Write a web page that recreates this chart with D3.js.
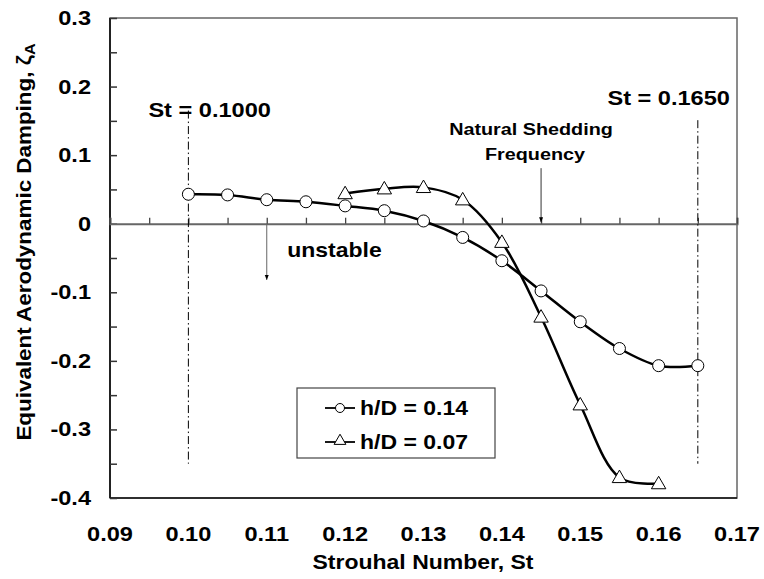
<!DOCTYPE html>
<html>
<head>
<meta charset="utf-8">
<script src="https://cdn.jsdelivr.net/npm/d3@7"></script>
<style>
  body { margin: 0; background: #fff; }
  text { font-family: "Liberation Sans", Arial, sans-serif; font-weight: bold; fill: #000; }
</style>
</head>
<body>
<svg id="chart" width="764" height="579"></svg>
<script>
// data
var stCircle = [0.100, 0.105, 0.110, 0.115, 0.120, 0.125, 0.130, 0.135, 0.140, 0.145, 0.150, 0.155, 0.160, 0.165];
var dampCircle = [0.043, 0.042, 0.035, 0.032, 0.026, 0.019, 0.004, -0.020, -0.054, -0.098, -0.143, -0.182, -0.207, -0.207];
var stTri = [0.120, 0.125, 0.130, 0.135, 0.140, 0.145, 0.150, 0.155, 0.160];
var dampTri = [0.044, 0.051, 0.053, 0.035, -0.027, -0.136, -0.264, -0.370, -0.379];
var xTicks = [0.09, 0.10, 0.11, 0.12, 0.13, 0.14, 0.15, 0.16, 0.17];
var yTicks = [0.3, 0.2, 0.1, 0, -0.1, -0.2, -0.3, -0.4];
var seriesNames = ["h/D = 0.14", "h/D = 0.07"];

var svg = d3.select("#chart");
var mLeft = 110, mRight = 737, mTop = 18, mBottom = 498;
var stretch = 1.15; // the original text is a bit wide

var x = d3.scaleLinear().domain([0.09, 0.17]).range([mLeft, mRight]);
var y = d3.scaleLinear().domain([-0.4, 0.3]).range([mBottom, mTop]);

function label(txt, px, py, anchor, size, rot) {
  var t = svg.append("text")
    .attr("transform", "translate(" + px + "," + py + ")" + (rot ? " rotate(" + rot + ")" : "") + " scale(" + stretch + ",1)")
    .attr("text-anchor", anchor || "start")
    .style("font-size", (size || 20) + "px");
  t.text(txt);
  return t;
}

svg.append("defs").append("marker")
  .attr("id", "arr").attr("viewBox", "0 0 10 10")
  .attr("refX", 10).attr("refY", 5)
  .attr("markerWidth", 5).attr("markerHeight", 5)
  .attr("orient", "auto")
  .append("path").attr("d", "M0,1 L10,5 L0,9 Z").attr("fill", "#000");

// frame
svg.append("rect").attr("x", mLeft).attr("y", mTop)
  .attr("width", mRight - mLeft).attr("height", mBottom - mTop)
  .attr("fill", "none").attr("stroke", "#666").attr("stroke-width", 1.5);
svg.append("line").attr("x1", mLeft).attr("x2", mLeft).attr("y1", mTop).attr("y2", mBottom)
  .attr("stroke", "#222").attr("stroke-width", 2);
svg.append("line").attr("x1", mLeft).attr("x2", mRight).attr("y1", mBottom).attr("y2", mBottom)
  .attr("stroke", "#111").attr("stroke-width", 1.5);

// y axis, ticks pointing inwards
var yAxis = d3.axisRight(y).tickValues(d3.range(-0.4, 0.3001, 0.05)).tickSize(7).tickFormat("");
var ya = svg.append("g").attr("transform", "translate(" + mLeft + ",0)").call(yAxis);
ya.select(".domain").remove();
ya.selectAll("line").attr("stroke", "#333").attr("stroke-width", 1.5);

yTicks.forEach(function (v) {
  var s = v === 0 ? "0" : d3.format(".1f")(v).replace("\u2212", "-");
  label(s, 91, y(v) + 7, "end", 20.5);
});

// zero line with upward ticks
var xAxis = d3.axisTop(x).tickValues(d3.range(0.09, 0.1701, 0.005)).tickSize(6).tickFormat("");
var xa = svg.append("g").attr("transform", "translate(0," + y(0) + ")").call(xAxis);
xa.select(".domain").attr("stroke", "#666").attr("stroke-width", 2);
xa.selectAll("line").attr("stroke", "#444").attr("stroke-width", 1.3);

xTicks.forEach(function (v) {
  label(d3.format(".2f")(v), x(v), 541, "middle", 20.5);
});

// dash-dot limits
[[0.100, 0.165], [0.165, 0.151]].forEach(function (d) {
  svg.append("line").attr("x1", x(d[0])).attr("x2", x(d[0]))
    .attr("y1", y(d[1])).attr("y2", y(-0.35))
    .attr("stroke", "#000").attr("stroke-width", 1)
    .attr("stroke-dasharray", "8,3,1.5,3");
});
label("St = 0.1000", x(0.0949), y(0.155), "start", 20.5);
label("St = 0.1650", x(0.1691), y(0.173), "end", 20.5);

// annotations
svg.append("line").attr("x1", x(0.11)).attr("x2", x(0.11)).attr("y1", y(0)).attr("y2", y(-0.082))
  .attr("stroke", "#666").attr("stroke-width", 1).attr("marker-end", "url(#arr)");
label("unstable", x(0.1126), y(-0.0486), "start", 20);

svg.append("line").attr("x1", x(0.145)).attr("x2", x(0.145)).attr("y1", y(0.081)).attr("y2", y(0.002))
  .attr("stroke", "#333").attr("stroke-width", 1).attr("marker-end", "url(#arr)");
label("Natural Shedding", 531, 135, "middle", 17.2);
label("Frequency", 535, 160, "middle", 17.2);

// series
var line = d3.line().curve(d3.curveCatmullRom.alpha(0.5))
  .x(function (d) { return x(d[0]); }).y(function (d) { return y(d[1]); });

var circPts = d3.zip(stCircle, dampCircle);
var triPts = d3.zip(stTri, dampTri);
var triSym = d3.symbol().type(d3.symbolTriangle).size(90);

[circPts, triPts].forEach(function (pts) {
  svg.append("path").datum(pts).attr("d", line)
    .attr("fill", "none").attr("stroke", "#000").attr("stroke-width", 2.5);
});

svg.selectAll(".circ").data(circPts).enter().append("circle")
  .attr("cx", function (d) { return x(d[0]); }).attr("cy", function (d) { return y(d[1]); })
  .attr("r", 6).attr("fill", "#fff").attr("stroke", "#000").attr("stroke-width", 1);

svg.selectAll(".tri").data(triPts).enter().append("path")
  .attr("d", triSym)
  .attr("transform", function (d) { return "translate(" + x(d[0]) + "," + (y(d[1]) + 1) + ")"; })
  .attr("fill", "#fff").attr("stroke", "#000").attr("stroke-width", 1);

// legend
svg.append("rect").attr("x", 297).attr("y", 388).attr("width", 198).attr("height", 70)
  .attr("fill", "#fff").attr("stroke", "#444").attr("stroke-width", 1.2);
var legRows = [408, 442];
seriesNames.forEach(function (name, i) {
  var ly = legRows[i];
  svg.append("line").attr("x1", 325).attr("x2", 355).attr("y1", ly).attr("y2", ly)
    .attr("stroke", "#000").attr("stroke-width", 1.8);
  if (i === 0) {
    svg.append("circle").attr("cx", 340).attr("cy", ly).attr("r", 4.5)
      .attr("fill", "#fff").attr("stroke", "#000").attr("stroke-width", 1);
  } else {
    svg.append("path").attr("d", d3.symbol().type(d3.symbolTriangle).size(60))
      .attr("transform", "translate(340," + (ly - 1) + ")")
      .attr("fill", "#fff").attr("stroke", "#000").attr("stroke-width", 1);
  }
  label(name, 360, ly + 7, "start", 20);
});

// axis titles
label("Strouhal Number, St", 423, 569, "middle", 20);
var yt = label("", 31, 242, "middle", 19.5, -90);
yt.append("tspan").text("Equivalent Aerodynamic Damping, ");
yt.append("tspan").text("\u03B6");
yt.append("tspan").attr("dy", 4).style("font-size", "14px").text("A");
</script>
</body>
</html>
